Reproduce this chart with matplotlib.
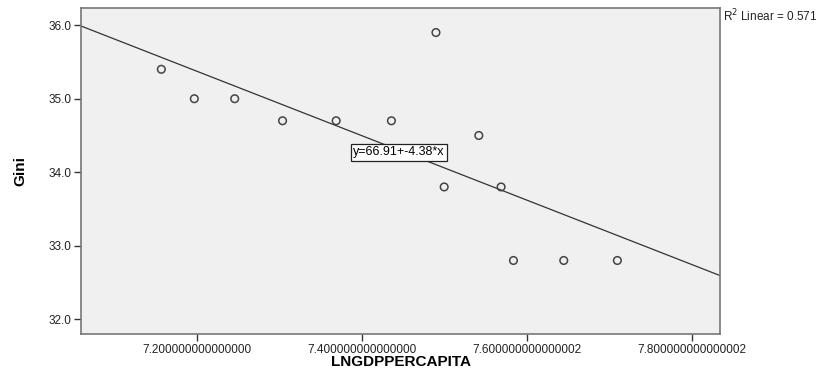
import numpy as np
import matplotlib
matplotlib.use("Agg")
import matplotlib.pyplot as plt

plt.rcParams['font.family'] = ['Liberation Sans', 'DejaVu Sans']

# data
ln_gdp = [7.157, 7.197, 7.246, 7.304, 7.369, 7.436, 7.490, 7.542, 7.500, 7.569, 7.584, 7.645, 7.710]
gini = [35.4, 35.0, 35.0, 34.7, 34.7, 34.7, 35.9, 34.5, 33.8, 33.8, 32.8, 32.8, 32.8]

intercept = 66.91
slope = -4.38
r2 = 0.571

xticks = [7.2, 7.4, 7.6, 7.8]
xtick_labels = ["7.200000000000000", "7.400000000000000", "7.600000000000002", "7.800000000000002"]
yticks = [32.0, 33.0, 34.0, 35.0, 36.0]

xlim = (7.0596, 7.8346)
ylim = (31.80, 36.23)

fig = plt.figure(figsize=(8.3, 3.71), dpi=100)
ax = fig.add_axes([0.0976, 0.0997, 0.77, 0.878])
ax.set_facecolor('#f0f0f0')

# fit line over the full x range
xs = np.array(xlim)
ax.plot(xs, intercept + slope * xs, color='#333333', lw=0.9)

ax.scatter(ln_gdp, gini, s=30, facecolors='none', edgecolors='#444444', linewidths=1.1, zorder=3)

ax.set_xlim(*xlim)
ax.set_ylim(*ylim)
ax.set_xticks(xticks)
ax.set_xticklabels(xtick_labels)
ax.set_yticks(yticks)
ax.set_yticklabels([f"{v:.1f}" for v in yticks])
ax.tick_params(direction='out', length=5, width=1, color='#333333', labelsize=8.5,
               labelcolor='#222222', pad=2)

for side in ['left', 'bottom', 'right', 'top']:
    ax.spines[side].set_color('#777777')
    ax.spines[side].set_linewidth(1.2)

ax.set_xlabel("LNGDPPERCAPITA", fontsize=11, fontweight='bold', va='center')
ax.xaxis.set_label_coords(0.5, -0.085)
ax.set_ylabel("Gini", fontsize=11, fontweight='bold', va='center')
ax.yaxis.set_label_coords(-0.095, 0.5)

ax.text(7.445, 34.27, "y=66.91+-4.38*x", fontsize=9, ha='center', va='center',
        bbox=dict(boxstyle='square,pad=0.2', facecolor='white', edgecolor='#222222', lw=0.9))

fig.text(0.871, 0.958, f"R$^2$ Linear = {r2:.3f}", fontsize=8.5, ha='left', va='center', color='#222222')

fig.savefig("out.png", dpi=100)
